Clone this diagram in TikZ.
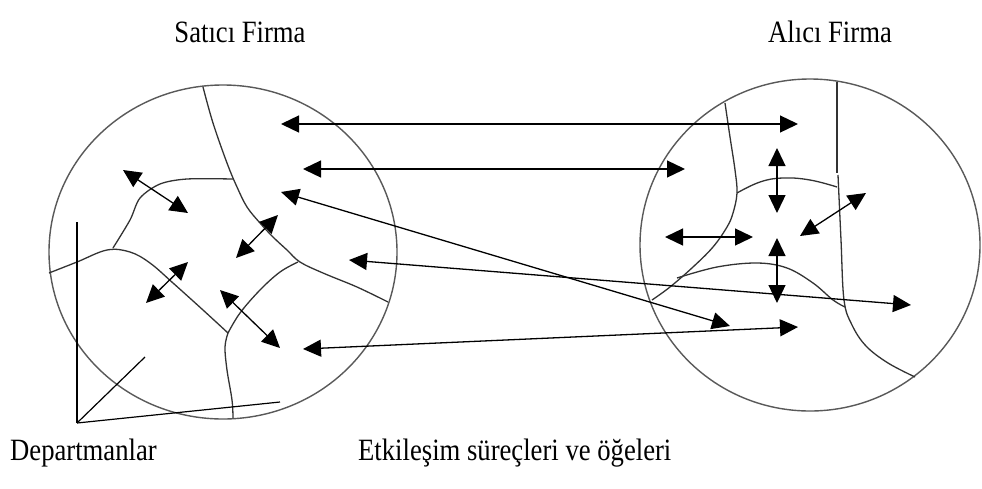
\documentclass[tikz,border=0pt]{standalone}
\usepackage{fontspec}
\setmainfont{Liberation Serif}
\newfontfamily\labelfont[FakeStretch=0.86]{Liberation Serif}
\usetikzlibrary{arrows.meta}
\begin{document}
\begin{tikzpicture}[x=1pt,y=-1pt,
  rim/.style={draw=black!65,line width=1.4pt},
  part/.style={draw=black!80,line width=1.3pt},
  pointer/.style={draw=black,line width=1.2pt},
  link/.style={draw=black,line width=1.3pt,{Triangle[length=18pt,width=17pt]}-{Triangle[length=18pt,width=17pt]}},
  lbl/.style={inner sep=0pt,font=\labelfont\fontsize{31}{36}\selectfont}]
\useasboundingbox[fill=white] (0,0) rectangle (982,488);

% firms
\draw[rim] (223,252) ellipse [x radius=174, y radius=167];
\draw[rim] (810,245) ellipse [x radius=170, y radius=166];

% departments of the seller
\draw[part] plot[smooth,tension=0.6] coordinates {(203,87) (213,123) (227,163) (237,187) (247,207) (260,223) (273,237) (287,250) (300,262) (323,273) (357,287) (388,302)};
\draw[part] plot[smooth,tension=0.5] coordinates {(233,179) (187,179) (160,184) (140,198) (130,220) (113,248)};
\draw[part] plot[smooth,tension=0.6] coordinates {(49,273) (77,262) (107,250) (130,252) (150,263) (173,283) (203,310) (228,333)};
\draw[part] plot[smooth,tension=0.6] coordinates {(228,333) (240,313) (260,290) (280,272) (298,262)};
\draw[part] plot[smooth,tension=0.6] coordinates {(228,333) (225,347) (227,370) (232,400) (233,418)};

% departments of the buyer
\draw[part] (837,82) -- (837,173);
\draw[part] plot[smooth,tension=0.6] coordinates {(838,175) (841,240) (844,300) (852,325) (866,346) (888,363) (915,377)};
\draw[part] plot[smooth,tension=0.6] coordinates {(725,103) (730,137) (735,170) (737,193) (733,213) (727,227) (713,247) (693,267) (670,287) (652,300)};
\draw[part] plot[smooth,tension=0.7] coordinates {(737,193) (760,182) (783,178) (810,180) (837,187)};
\draw[part] plot[smooth,tension=0.6] coordinates {(677,278) (717,267) (757,263) (787,268) (813,283) (833,300) (845,307)};

% labels
\node[lbl] (seller) at (240,32) {Satıcı Firma};
\node[lbl] (buyer) at (830,32) {Alıcı Firma};
\node[lbl,anchor=west] (dept) at (10,453) {Departmanlar};
\node[lbl,anchor=west] (proc) at (358,453) {Etkileşim süreçleri ve öğeleri};

% pointer to departments
\coordinate (p0) at (77,423);
\coordinate (p1) at (77,222);
\coordinate (p2) at (145,357);
\coordinate (p3) at (280,402);
\draw[pointer] (p1) -- (p0);
\draw[pointer] (p0) -- (p2);
\draw[pointer] (p0) -- (p3);

% internal interactions, seller
\coordinate (a1s) at (123,170); \coordinate (a1e) at (188,213);
\coordinate (a2s) at (278,215); \coordinate (a2e) at (236,258);
\coordinate (a3s) at (188,262); \coordinate (a3e) at (146,303);
\coordinate (a4s) at (220,290); \coordinate (a4e) at (280,348);
\draw[link] (a1s) -- (a1e);
\draw[link] (a2s) -- (a2e);
\draw[link] (a3s) -- (a3e);
\draw[link] (a4s) -- (a4e);

% internal interactions, buyer
\coordinate (c1s) at (777,148); \coordinate (c1e) at (777,213);
\coordinate (c2s) at (665,237); \coordinate (c2e) at (753,237);
\coordinate (c3s) at (866,193); \coordinate (c3e) at (800,236);
\coordinate (c4s) at (777,238); \coordinate (c4e) at (777,303);
\draw[link] (c1s) -- (c1e);
\draw[link] (c2s) -- (c2e);
\draw[link] (c3s) -- (c3e);
\draw[link] (c4s) -- (c4e);

% interactions between firms
\coordinate (b1s) at (281,124); \coordinate (b1e) at (798,124);
\coordinate (b2s) at (303,169); \coordinate (b2e) at (685,169);
\coordinate (b3s) at (281,192); \coordinate (b3e) at (730,326);
\coordinate (b4s) at (349,260); \coordinate (b4e) at (911,305);
\coordinate (b5s) at (303,349); \coordinate (b5e) at (798,327);
\draw[link] (b1s) -- (b1e);
\draw[link] (b2s) -- (b2e);
\draw[link] (b3s) -- (b3e);
\draw[link] (b4s) -- (b4e);
\draw[link] (b5s) -- (b5e);
\end{tikzpicture}
\end{document}
